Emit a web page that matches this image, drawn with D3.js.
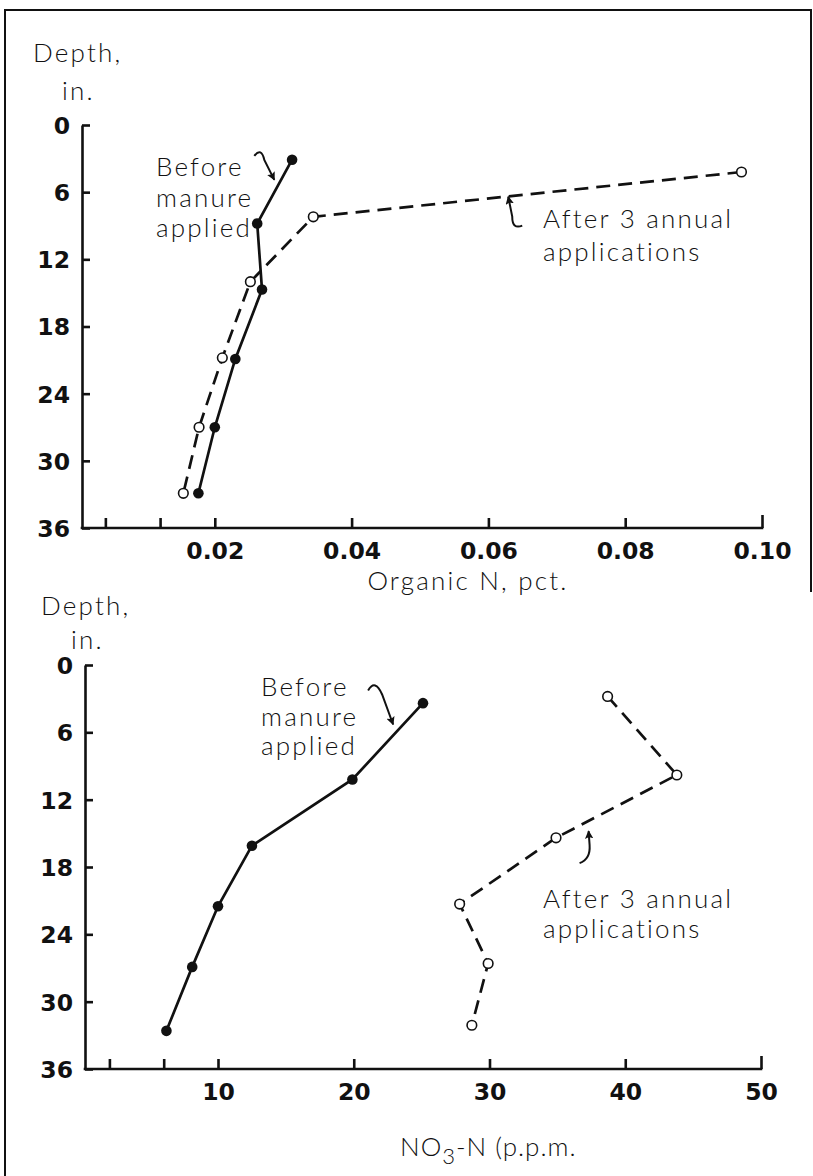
<!DOCTYPE html>
<html>
<head>
<meta charset="utf-8">
<script src="https://cdn.jsdelivr.net/npm/d3@7"></script>
<style>
  html, body { margin: 0; padding: 0; background: #fff; }
  svg { display: block; }
  .tick-label { font-family: "DejaVu Sans", sans-serif; font-weight: bold; font-size: 23.5px; fill: #111; }
  .lbl { font-family: "Lato", "DejaVu Sans", sans-serif; font-weight: 300; font-size: 26px; fill: #111; letter-spacing: 2.2px; }
</style>
</head>
<body>
<svg id="chart" width="813" height="1176"></svg>
<script>
// ---------------- DATA ----------------
const depthTicks = [0, 6, 12, 18, 24, 30, 36];

// Top panel: Organic N, pct.
const orgNTicks = [0.004, 0.012, 0.02, 0.04, 0.06, 0.08, 0.10];
const orgNLabelled = [0.02, 0.04, 0.06, 0.08, 0.10];
const topDepthBefore = [3.1, 8.8, 14.7, 20.9, 27.0, 32.9];
const topOrgNBefore  = [0.0313, 0.0262, 0.0269, 0.0230, 0.0200, 0.0176];
const topDepthAfter  = [4.2, 8.2, 14.0, 20.8, 27.0, 32.9];
const topOrgNAfter   = [0.0970, 0.0344, 0.0252, 0.0211, 0.0177, 0.0154];

// Bottom panel: NO3-N (p.p.m.)
const no3Ticks = [2, 6, 10, 20, 30, 40, 50];
const no3Labelled = [10, 20, 30, 40, 50];
const botDepthBefore = [3.4, 10.2, 16.1, 21.5, 26.9, 32.6];
const botNO3Before   = [25.1, 19.9, 12.5, 10.0, 8.1, 6.2];
const botDepthAfter  = [2.8, 9.8, 15.4, 21.3, 26.6, 32.1];
const botNO3After    = [38.7, 43.8, 34.9, 27.8, 29.9, 28.7];

const labelBefore = ["Before", "manure", "applied"];
const labelAfter = ["After 3 annual", "applications"];

// ---------------- DRAW ----------------
const svg = d3.select("#chart");

// frame
svg.append("path")
  .attr("d", "M5,1176 L5,10 L811,10 L811,592")
  .attr("fill", "none").attr("stroke", "#111").attr("stroke-width", 2);

svg.append("defs").append("marker")
  .attr("id", "ah").attr("viewBox", "0 0 10 10")
  .attr("refX", 9).attr("refY", 5)
  .attr("markerWidth", 4.2).attr("markerHeight", 4.2)
  .attr("markerUnits", "strokeWidth")
  .attr("orient", "auto")
  .append("path").attr("d", "M0,0 L10,5 L0,10 L2,5 Z").attr("fill", "#111");

function panel(cfg) {
  const g = svg.append("g");
  const x = d3.scaleLinear().domain(cfg.xDomain).range(cfg.xRange);
  const y = d3.scaleLinear().domain([0, 36]).range(cfg.yRange);

  // Y axis (ticks pointing right)
  const yAxis = d3.axisLeft(y).tickValues(depthTicks).tickSizeInner(-8).tickSizeOuter(0).tickPadding(12);
  const ya = g.append("g").attr("transform", `translate(${cfg.axisX},0)`).call(yAxis);
  ya.select(".domain").attr("stroke", "#111").attr("stroke-width", 2.6);
  ya.selectAll(".tick line").attr("stroke", "#111").attr("stroke-width", 2.6);
  ya.selectAll(".tick text").attr("class", "tick-label").attr("dy", "0.36em");

  // X axis (ticks pointing up)
  const xAxis = d3.axisBottom(x).tickValues(cfg.xTicks).tickSizeInner(-10).tickSizeOuter(0).tickPadding(14)
    .tickFormat(v => cfg.xLabelled.some(l => Math.abs(l - v) < 1e-9) ? cfg.fmt(v) : "");
  const xa = g.append("g").attr("transform", `translate(0,${y(36)})`).call(xAxis);
  xa.select(".domain").remove();
  xa.append("line").attr("x1", cfg.axisX - 1.3).attr("x2", x(cfg.xDomain[1]) + 1.3)
    .attr("y1", 0).attr("y2", 0).attr("stroke", "#111").attr("stroke-width", 2.6);
  xa.selectAll(".tick line").attr("stroke", "#111").attr("stroke-width", 2.6)
    .attr("y2", v => v === cfg.xDomain[1] ? -13 : -10);
  xa.selectAll(".tick text").attr("class", "tick-label");

  // Depth label
  g.append("text").attr("class", "lbl").attr("x", cfg.depthLbl[0]).attr("y", cfg.depthLbl[1]).text("Depth,");
  g.append("text").attr("class", "lbl").attr("x", cfg.inLbl[0]).attr("y", cfg.inLbl[1]).text("in.");

  // Lines
  const line = d3.line().x(d => x(d[0])).y(d => y(d[1]));
  const before = cfg.bx.map((v, i) => [v, cfg.by[i]]);
  const after = cfg.ax.map((v, i) => [v, cfg.ay[i]]);
  g.append("path").datum(after).attr("d", line).attr("fill", "none")
    .attr("stroke", "#111").attr("stroke-width", 2.7).attr("stroke-dasharray", "14,8");
  g.append("path").datum(before).attr("d", line).attr("fill", "none")
    .attr("stroke", "#111").attr("stroke-width", 2.7);
  g.selectAll("circle.a").data(after).enter().append("circle")
    .attr("cx", d => x(d[0])).attr("cy", d => y(d[1])).attr("r", 4.8)
    .attr("fill", "#fff").attr("stroke", "#111").attr("stroke-width", 1.6);
  g.selectAll("circle.b").data(before).enter().append("circle")
    .attr("cx", d => x(d[0])).attr("cy", d => y(d[1])).attr("r", 5.3)
    .attr("fill", "#111");

  // Annotations
  labelBefore.forEach((t, i) => g.append("text").attr("class", "lbl")
    .attr("x", cfg.beforeLbl[0]).attr("y", cfg.beforeLbl[1] + i * cfg.lineH).text(t));
  labelAfter.forEach((t, i) => g.append("text").attr("class", "lbl")
    .attr("x", cfg.afterLbl[0]).attr("y", cfg.afterLbl[1] + i * cfg.lineH2).text(t));

  // arrows: tip given in data coords, shape as pixel offsets from tip
  cfg.arrows.forEach(a => {
    const tx = x(a.tip[0]), ty = y(a.tip[1]);
    const p = a.rel.map(r => [tx + r[0], ty + r[1]]);
    const d = `M${p[0][0]},${p[0][1]} Q${p[1][0]},${p[1][1]} ${p[2][0]},${p[2][1]} L${tx},${ty}`;
    g.append("path").attr("d", d).attr("fill", "none").attr("stroke", "#111")
      .attr("stroke-width", 2).attr("marker-end", "url(#ah)");
  });

  // X title
  cfg.xTitle(g);
  return g;
}

panel({
  xDomain: [0, 0.10], xRange: [78, 762], yRange: [125, 528], axisX: 82,
  xTicks: orgNTicks, xLabelled: orgNLabelled, fmt: d3.format(".2f"),
  depthLbl: [33, 62], inLbl: [62, 100],
  bx: topOrgNBefore, by: topDepthBefore, ax: topOrgNAfter, ay: topDepthAfter,
  beforeLbl: [156, 176], lineH: 30.5, afterLbl: [543, 228], lineH2: 33,
  arrows: [
    { tip: [0.0287, 4.9], rel: [[-20, -24], [-13, -33], [-10, -20]] },
    { tip: [0.0629, 6.4], rel: [[14, 29], [4, 33], [4, 20]] }
  ],
  xTitle: g => g.append("text").attr("class", "lbl").attr("x", 468).attr("y", 590)
    .attr("text-anchor", "middle").text("Organic N, pct.")
});

panel({
  xDomain: [0, 50], xRange: [82.25, 761], yRange: [665, 1069], axisX: 85,
  xTicks: no3Ticks, xLabelled: no3Labelled, fmt: d3.format("d"),
  depthLbl: [41, 615], inLbl: [71, 649],
  bx: botNO3Before, by: botDepthBefore, ax: botNO3After, ay: botDepthAfter,
  beforeLbl: [261, 696], lineH: 29.5, afterLbl: [543, 908], lineH2: 30,
  arrows: [
    { tip: [22.9, 5.3], rel: [[-25, -34], [-18, -46], [-11, -30]] },
    { tip: [37.3, 14.8], rel: [[-9, 32], [2, 28], [1, 14]] }
  ],
  xTitle: g => {
    const t = g.append("text").attr("class", "lbl").attr("x", 400).attr("y", 1156)
      .style("letter-spacing", "1px");
    t.append("tspan").text("NO");
    t.append("tspan").attr("dy", 8).attr("font-size", "22px").text("3");
    t.append("tspan").attr("dy", -8).text("-N (p.p.m.");
  }
});
</script>
</body>
</html>
